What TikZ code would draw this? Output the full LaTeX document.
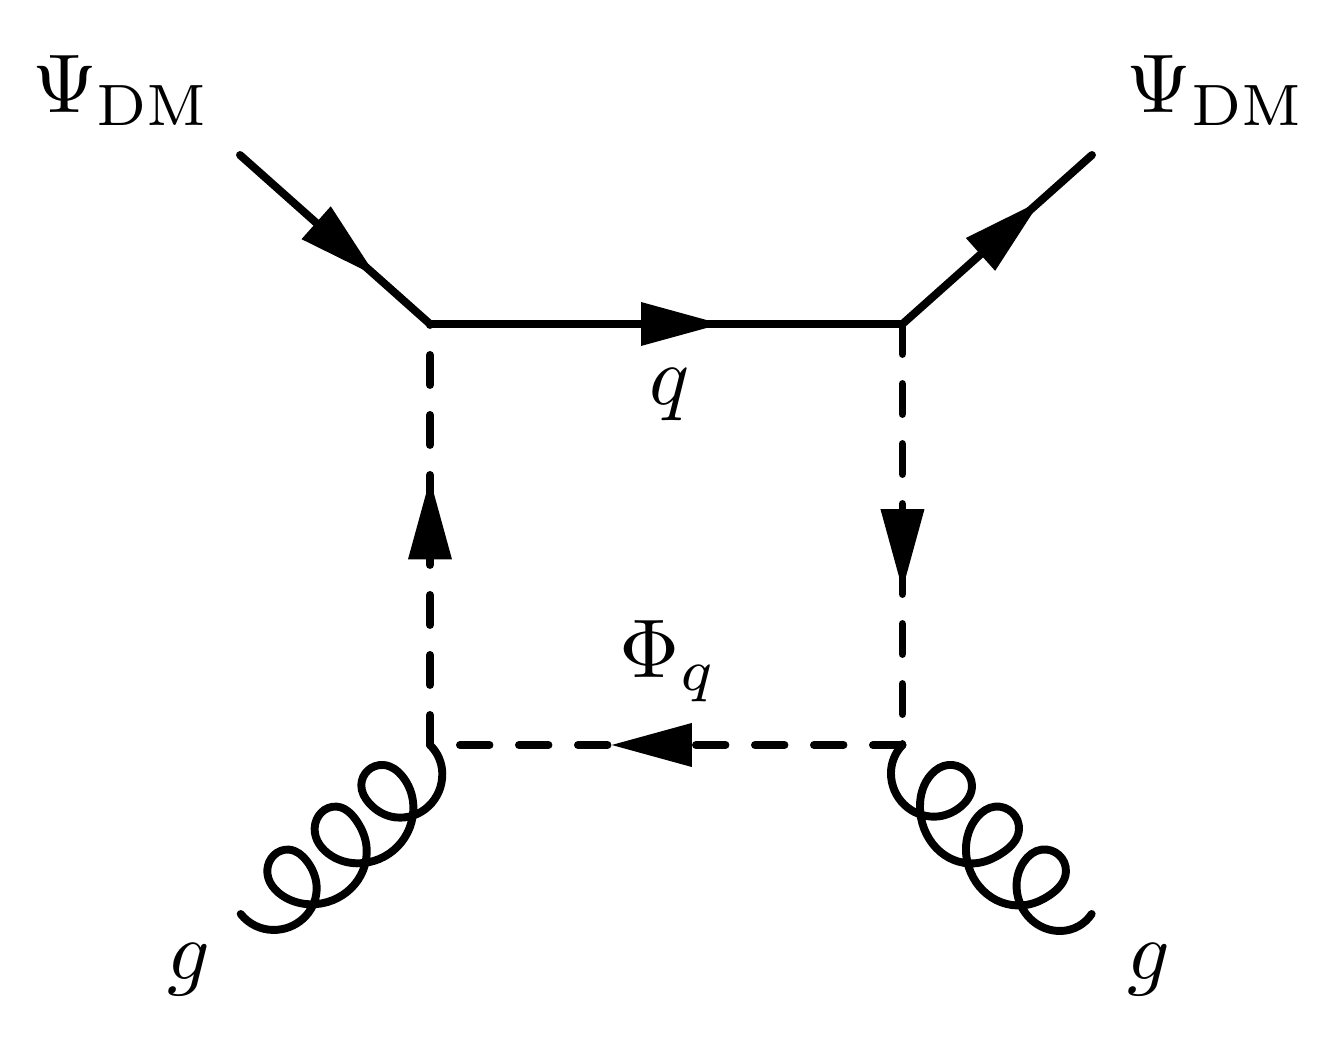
\documentclass[tikz,border=0pt]{standalone}
\usetikzlibrary{decorations.markings,hobby}
\tikzset{
  feyn/.style={line width=0.95pt,line cap=round,line join=miter},
  scalarline/.style={feyn,dash pattern=on 3.6pt off 3.6pt},
  scalarbottom/.style={feyn,dash pattern=on 3.54pt off 3.54pt},
  tipat/.style={postaction={decorate},decoration={markings,mark=at position #1 with {\fill[solid] (0,22)--(80,0)--(0,-22)--cycle;}}},
  gluonline/.style={feyn,line join=round,use Hobby shortcut},
  lbl/.style={inner sep=0pt,outer sep=0pt,anchor=base west}
}
\begin{document}
\begin{tikzpicture}[x=0.12pt,y=-0.12pt]
\useasboundingbox (0,0) rectangle (1334,1038);
\coordinate (inL) at (240,155);
\coordinate (outR) at (1092,155);
\coordinate (vTL) at (430,324);
\coordinate (vTR) at (902.5,324);
\coordinate (vBL) at (430,745);
\coordinate (vBR) at (902.5,745);
\coordinate (gL) at (240.7,914);
\coordinate (gR) at (1091.7,914);
\draw[feyn,tipat=0.401] (inL) -- (vTL);
\draw[feyn,tipat=0.4466] (vTL) -- (vTR);
\draw[feyn,tipat=0.412] (vTR) -- (outR);
\draw[scalarline,tipat=0.441] (vBL) -- (vTL);
\draw[scalarline,tipat=0.440] (vTR) -- (vBR);
\draw[scalarbottom,tipat=0.446] (vBR) -- (vBL);
\begin{scope}[shift={(220,720)},x=0.04pt,y=-0.04pt]
\draw[gluonline] (vBL) .. (667,160) .. (525,292) .. (448,250) .. (424,195) .. (490,135) .. (548,170) .. (580,255) .. (410,430) .. (335,408) .. (284,325) .. (350,260) .. (408,300) .. (440,385) .. (270,553) .. (195,532) .. (142,450) .. (207,389) .. (262,425) .. (290,510) .. (160,630) .. (gL);
\end{scope}
\begin{scope}[shift={(860,720)},x=0.04pt,y=-0.04pt]
\draw[gluonline] (vBR) .. (93,160) .. (225,290) .. (300,262) .. (336,195) .. (265,135) .. (215,162) .. (180,260) .. (345,430) .. (425,400) .. (477,330) .. (405,260) .. (353,290) .. (318,390) .. (490,556) .. (570,525) .. (618,455) .. (545,389) .. (492,425) .. (470,505) .. (605,633) .. (gR);
\end{scope}
\node[lbl] (psiL) at (32,113) {$\Psi_{\rm DM}$};
\node[lbl] (psiR) at (1127,113) {$\Psi_{\rm DM}$};
\node[lbl] (q) at (650,405) {$q$};
\node[lbl] (phi) at (620,678) {$\Phi_q$};
\node[lbl] (g1) at (167,980) {$g$};
\node[lbl] (g2) at (1128,980) {$g$};
\end{tikzpicture}
\end{document}
